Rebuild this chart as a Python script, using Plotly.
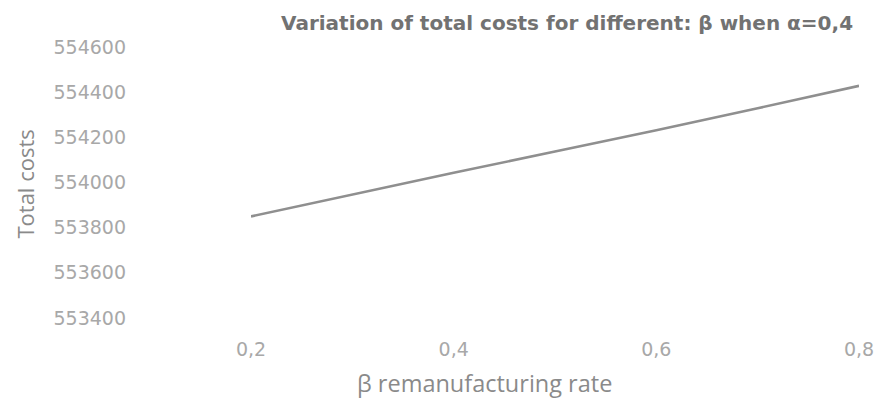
import plotly.graph_objects as go

# remanufacturing rate beta and resulting total costs (alpha = 0.4)
beta = [0.2, 0.3, 0.4, 0.5, 0.6, 0.7, 0.8]
total_costs = [553850, 553948, 554043, 554137, 554231, 554329, 554428]

x_ticks = [0.2, 0.4, 0.6, 0.8]
y_ticks = [553400, 553600, 553800, 554000, 554200, 554400, 554600]

title_text = "Variation of total costs for different: β when α=0,4"
x_title = "β remanufacturing rate"
y_title = "Total costs"

TEXT_FONT = "Open Sans"
TICK_FONT = "DejaVu Sans"
TICK_GREY = "#a8a8a8"
LABEL_GREY = "#8a8a8a"

fig = go.Figure()
fig.add_trace(go.Scatter(
    x=beta, y=total_costs, mode="lines",
    line=dict(color="#8f8f8f", width=2.6),
    showlegend=False,
))

fig.update_layout(
    width=886, height=398,
    margin=dict(l=251, r=21, t=47, b=80),
    paper_bgcolor="white", plot_bgcolor="white",
    separators=", ",
    font=dict(family=TICK_FONT, color=TICK_GREY, size=19),
    xaxis=dict(
        range=[0.2, 0.8], tickvals=x_ticks, tickformat=".1f",
        showgrid=False, zeroline=False, showline=False, ticks="",
        ticklabelstandoff=18,
        tickfont=dict(family=TICK_FONT, size=19, color=TICK_GREY),
    ),
    yaxis=dict(
        range=[553400, 554600], tickvals=y_ticks, tickformat="d",
        showgrid=False, zeroline=False, showline=False, ticks="",
        ticklabelstandoff=124,
        tickfont=dict(family=TICK_FONT, size=19, color=TICK_GREY),
    ),
    annotations=[
        dict(text="<b>" + title_text + "</b>", xref="paper", yref="paper",
             x=0.520, y=1.089, xanchor="center", yanchor="middle",
             showarrow=False,
             font=dict(family="DejaVu Sans", size=20, color="#727272")),
        dict(text=x_title, xref="paper", yref="paper",
             x=0.384, y=-0.240, xanchor="center", yanchor="middle",
             showarrow=False,
             font=dict(family=TEXT_FONT, size=23.5, color=LABEL_GREY)),
        dict(text=y_title, xref="paper", yref="paper",
             x=-0.371, y=0.494, xanchor="center", yanchor="middle",
             textangle=-90, showarrow=False,
             font=dict(family=TEXT_FONT, size=22, color=LABEL_GREY)),
    ],
)

fig.write_html("out.html")
